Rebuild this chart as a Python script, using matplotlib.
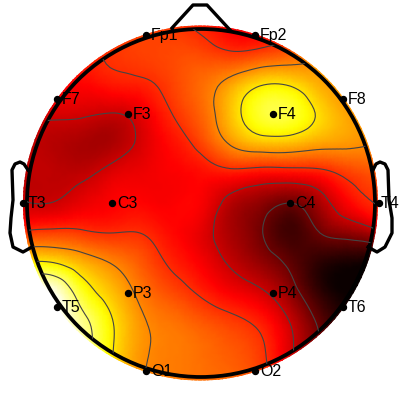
import numpy as np
import matplotlib
matplotlib.use("Agg")
import matplotlib.pyplot as plt
import matplotlib.tri as mtri
from matplotlib.patches import Circle

# electrodes, pixel position on the picture
names = ["Fp1", "Fp2", "F7", "F3", "F4", "F8", "T3", "C3", "C4", "T4", "T5", "P3", "P4", "T6", "O1", "O2"]
elec_x = [146, 255, 57, 128, 273, 343, 23, 112, 290, 379, 57, 128, 273, 343, 146, 255]
elec_y = [35, 35, 99, 114, 114, 99, 203, 203, 203, 203, 307, 293, 293, 307, 371, 371]

# field (position on the hot colormap, 0 black .. 1 white)
grid_x = [20, 50, 80, 110, 140, 170, 200, 230, 260, 290, 320, 350, 380]
grid_y = [23, 53, 83, 113, 143, 173, 203, 233, 263, 293, 323, 353, 383]
field = [
    [.40, .42, .43, .45, .46, .45, .41, .36, .33, .38, .45, .52, .55],
    [.38, .40, .42, .44, .46, .47, .47, .44, .46, .50, .56, .58, .60],
    [.36, .38, .37, .40, .415, .46, .52, .60, .69, .69, .62, .58, .58],
    [.32, .31, .305, .29, .33, .425, .51, .65, .79, .80, .69, .60, .55],
    [.28, .26, .24, .24, .305, .38, .46, .58, .65, .65, .61, .59, .56],
    [.26, .27, .27, .315, .34, .36, .38, .40, .38, .38, .40, .46, .50],
    [.30, .29, .33, .36, .37, .36, .36, .26, .20, .15, .24, .37, .44],
    [.44, .46, .45, .43, .43, .38, .33, .24, .16, .08, .15, .20, .27],
    [.72, .72, .64, .57, .50, .42, .36, .28, .21, .13, .05, .02, .00],
    [.95, 1.0, .80, .66, .55, .48, .42, .36, .31, .20, .06, .00, .00],
    [1.0, 1.0, .90, .73, .59, .54, .50, .46, .41, .29, .13, .03, .00],
    [1.0, 1.0, .92, .73, .59, .55, .53, .50, .45, .31, .15, .05, .00],
    [1.0, 1.0, .90, .74, .58, .55, .53, .52, .46, .32, .15, .05, .00],
]
levels = [.15, .29, .43, .57, .71, .85]

# outline
nose_x = [172, 193, 207, 230]
nose_y = [28, 5, 5, 30]
ear_l_x = [28, 24, 20, 15, 12, 13, 11, 10, 13, 23, 32]
ear_l_y = [170, 164, 162, 164, 170, 200, 218, 233, 247, 252, 247]
ear_r_x = [373, 376, 380, 385, 388, 389, 392, 392, 385, 377, 368]
ear_r_y = [170, 164, 162, 164, 170, 200, 218, 233, 247, 252, 247]

fig = plt.figure(figsize=(4, 4), dpi=100)
ax = fig.add_axes([0, 0, 1, 1])
ax.set_xlim(0, 400)
ax.set_ylim(400, 0)
ax.axis("off")

xx, yy = np.meshgrid(grid_x, grid_y)
tri = mtri.Triangulation(xx.ravel(), yy.ravel())
refiner = mtri.UniformTriRefiner(tri)
fine_tri, fine_z = refiner.refine_field(np.array(field).ravel(), subdiv=3)

disc = Circle((200.5, 203), 177.5, transform=ax.transData, fc="none", ec="none")
ax.add_patch(disc)
mesh = ax.tripcolor(fine_tri, fine_z, shading="gouraud", cmap="hot", vmin=0, vmax=1)
mesh.set_clip_path(disc)

cs = ax.tricontour(fine_tri, fine_z, levels=levels, colors="#444444", linewidths=0.8)
cs.set_clip_path(Circle((201, 203), 174, transform=ax.transData))

ax.add_patch(Circle((201, 203), 174, fc="none", ec="black", lw=2.7))
ax.plot(nose_x, nose_y, color="black", lw=2.4)
ax.plot(ear_l_x, ear_l_y, color="black", lw=2.4)
ax.plot(ear_r_x, ear_r_y, color="black", lw=2.4)

ax.plot(elec_x, elec_y, "o", color="black", ms=4.3, clip_on=False)
for n, x, y in zip(names, elec_x, elec_y):
    # T4 sits against the right edge
    dx = 2 if n == "T4" else 5
    ax.text(x + dx, y + 0.5, n, fontsize=11.5, family="Liberation Sans", color="black", ha="left", va="center")

fig.savefig("out.png", dpi=100)
